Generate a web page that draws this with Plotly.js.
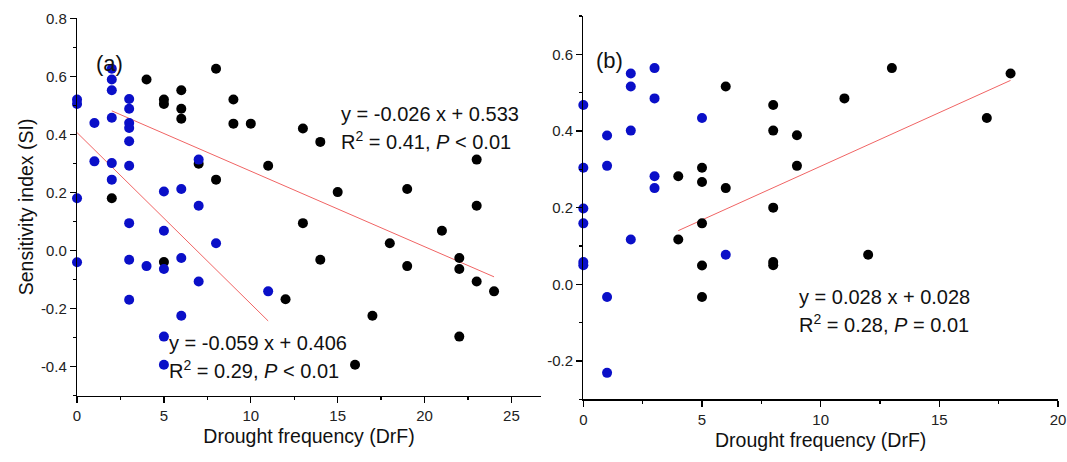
<!DOCTYPE html>
<html>
<head>
<meta charset="utf-8">
<script src="https://cdn.plot.ly/plotly-3.0.1.min.js"></script>
<style>html,body{margin:0;padding:0;background:#fff}#chart{width:1067px;height:462px}</style>
</head>
<body>
<div id="chart"></div>
<script>
// Panel (a) data
const aBlackX = [2,4,5,5,5,6,6,6,7,8,8,9,9,10,11,12,13,13,14,14,15,16,17,18,19,19,21,22,22,22,23,23,23,24];
const aBlackY = [0.18,0.589,0.52,0.505,-0.04,0.552,0.488,0.454,0.299,0.626,0.244,0.52,0.437,0.437,0.292,-0.168,0.42,0.094,0.374,-0.032,0.201,-0.394,-0.225,0.025,0.212,-0.054,0.068,-0.026,-0.064,-0.297,0.313,0.154,-0.107,-0.141];
const aBlueX = [0,0,0,0,1,1,2,2,2,2,2,2,3,3,3,3,3,3,3,3,3,4,5,5,5,5,5,6,6,6,7,7,7,8,11];
const aBlueY = [0.52,0.505,0.18,-0.041,0.439,0.307,0.626,0.589,0.552,0.457,0.301,0.244,0.522,0.488,0.439,0.422,0.376,0.292,0.094,-0.032,-0.17,-0.054,0.203,0.068,-0.064,-0.297,-0.394,0.212,-0.026,-0.225,0.313,0.154,-0.107,0.025,-0.141];
// Panel (b) data
const bBlackX = [4,4,5,5,5,5,5,6,6,8,8,8,8,8,9,9,11,12,13,17,18];
const bBlackY = [0.282,0.117,0.304,0.267,0.159,0.049,-0.033,0.516,0.251,0.468,0.401,0.2,0.058,0.05,0.389,0.309,0.485,0.077,0.564,0.434,0.55];
const bBlueX = [0,0,0,0,0,0,1,1,1,1,2,2,2,2,3,3,3,3,5,6];
const bBlueY = [0.468,0.304,0.198,0.159,0.058,0.05,0.388,0.309,-0.033,-0.231,0.55,0.516,0.401,0.117,0.564,0.485,0.282,0.251,0.434,0.077];
// Fits: slope, intercept, x extent
const fitABlack = {slope:-0.026, intercept:0.533, x:[2,24]};
const fitABlue  = {slope:-0.059, intercept:0.406, x:[0,11]};
const fitB      = {slope:0.028,  intercept:0.028, x:[4,18]};
// Tick labels
const xTicksA = [0,5,10,15,20,25];
const xTicksB = [0,5,10,15,20];
const yTicksA = [-0.4,-0.2,0,0.2,0.4,0.6,0.8];
const yTickTextA = ['-0.4','-0.2','0.0','0.2','0.4','0.6','0.8'];
const yTicksB = [-0.2,0,0.2,0.4,0.6];
const yTickTextB = ['-0.2','0.0','0.2','0.4','0.6'];

const blue = '#0a0fc8';
const red = '#f06464';
const fnt = 'Liberation Sans, Arial, sans-serif';
function fitLine(f, xa, ya){
  return {x:f.x, y:f.x.map(v=>f.slope*v+f.intercept), mode:'lines', type:'scatter',
    line:{color:red,width:1}, xaxis:xa, yaxis:ya, hoverinfo:'skip', showlegend:false};
}
function pts(x,y,c,xa,ya){
  return {x:x,y:y,mode:'markers',type:'scatter',marker:{color:c,size:10},xaxis:xa,yaxis:ya,showlegend:false,cliponaxis:false};
}
const data = [
  fitLine(fitABlack,'x','y'), fitLine(fitABlue,'x','y'),
  pts(aBlackX,aBlackY,'#000','x','y'), pts(aBlueX,aBlueY,blue,'x','y'),
  fitLine(fitB,'x2','y2'),
  pts(bBlackX,bBlackY,'#000','x2','y2'), pts(bBlueX,bBlueY,blue,'x2','y2')
];
const minorT = {ticks:'outside', ticklen:3, tickwidth:1.3, tickcolor:'#000'};
const axBase = {showline:true, linecolor:'#000', linewidth:1.3, ticks:'outside', ticklen:6, tickwidth:1.3, tickcolor:'#000',
  showgrid:false, zeroline:false, tickfont:{family:fnt,size:15,color:'#222'}};
const titleFont = {family:fnt,size:19.5,color:'#111'};
const eqFont = {family:fnt,size:20,color:'#111'};
const layout = {
  width:1067, height:462, margin:{l:0,r:0,t:0,b:0}, paper_bgcolor:'#fff', plot_bgcolor:'#fff',
  font:{family:fnt, color:'#111'},
  xaxis: Object.assign({}, axBase, {domain:[0.0722,0.507], range:[0,26.7], tickvals:xTicksA, anchor:'y',
    minor:Object.assign({dtick:2.5, tick0:0}, minorT),
    title:{text:'Drought frequency (DrF)', font:titleFont, standoff:6}}),
  yaxis: Object.assign({}, axBase, {domain:[0.1439,0.9604], range:[-0.5,0.8], tickvals:yTicksA, ticktext:yTickTextA, anchor:'x',
    minor:Object.assign({dtick:0.1, tick0:0}, minorT),
    title:{text:'Sensitivity index (SI)', font:titleFont, standoff:2}}),
  xaxis2: Object.assign({}, axBase, {domain:[0.5467,0.9916], range:[0,20], tickvals:xTicksB, anchor:'y2',
    minor:Object.assign({dtick:2.5, tick0:0}, minorT),
    title:{text:'Drought frequency (DrF)', font:titleFont, standoff:6}}),
  yaxis2: Object.assign({}, axBase, {domain:[0.1357,0.9654], range:[-0.3,0.7], tickvals:yTicksB, ticktext:yTickTextB, anchor:'x2',
    minor:Object.assign({dtick:0.1, tick0:0}, minorT)}),
  annotations:[
    {xref:'x',yref:'y',x:0.95,y:0.645,text:'(a)',showarrow:false,xanchor:'left',font:{family:fnt,size:22,color:'#111'}},
    {xref:'x',yref:'y',x:15.1,y:0.47,text:'y = -0.026 x + 0.533',showarrow:false,xanchor:'left',font:eqFont},
    {xref:'x',yref:'y',x:15.1,y:0.378,text:'R<sup>2</sup> = 0.41, <i>P</i> < 0.01',showarrow:false,xanchor:'left',font:eqFont},
    {xref:'x',yref:'y',x:5.2,y:-0.318,text:'y = -0.059 x + 0.406',showarrow:false,xanchor:'left',font:eqFont},
    {xref:'x',yref:'y',x:5.2,y:-0.41,text:'R<sup>2</sup> = 0.29, <i>P</i> < 0.01',showarrow:false,xanchor:'left',font:eqFont},
    {xref:'x2',yref:'y2',x:0.45,y:0.583,text:'(b)',showarrow:false,xanchor:'left',font:{family:fnt,size:22,color:'#111'}},
    {xref:'x2',yref:'y2',x:9.0,y:-0.032,text:'y = 0.028 x + 0.028',showarrow:false,xanchor:'left',font:eqFont},
    {xref:'x2',yref:'y2',x:9.0,y:-0.103,text:'R<sup>2</sup> = 0.28, <i>P</i> = 0.01',showarrow:false,xanchor:'left',font:eqFont}
  ]
};
Plotly.newPlot('chart', data, layout, {displayModeBar:false, staticPlot:true});
</script>
</body>
</html>
